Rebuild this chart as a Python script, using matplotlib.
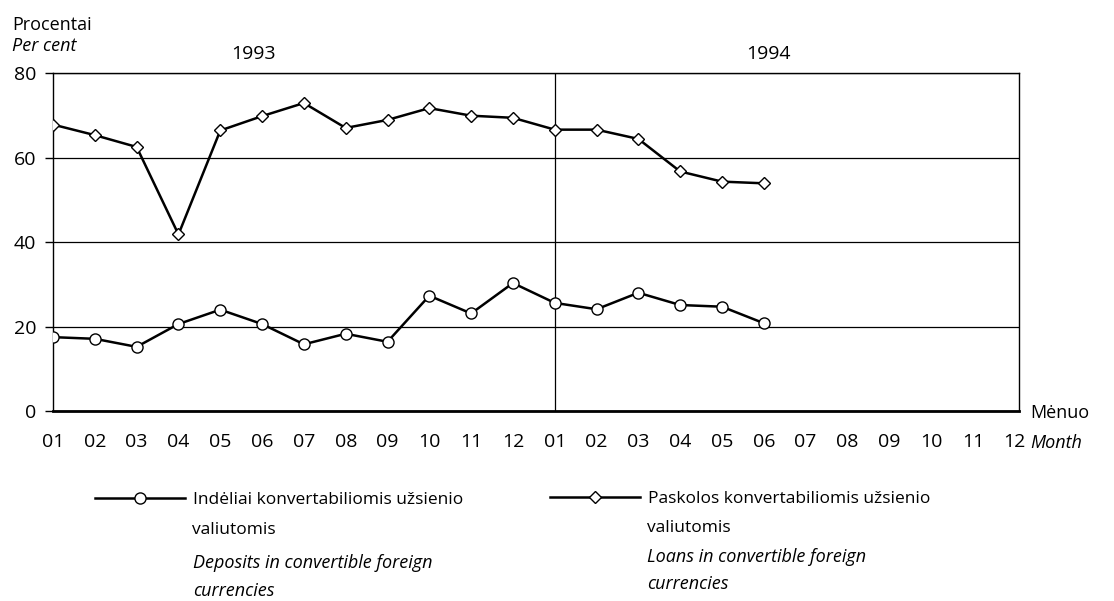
import matplotlib
matplotlib.use("Agg")
import matplotlib.pyplot as plt

plt.rcParams["font.family"] = ["Open Sans", "DejaVu Sans"]

months = ["01", "02", "03", "04", "05", "06", "07", "08", "09", "10", "11", "12"] * 2
years = ["1993", "1994"]

# Deposits in convertible foreign currencies (1993-01 .. 1994-06)
deposits = [17.5, 17.1, 15.2, 20.6, 24.0, 20.6, 15.8, 18.3, 16.4, 27.3, 23.1, 30.3,
            25.6, 24.1, 28.0, 25.1, 24.7, 20.8]
# Loans in convertible foreign currencies
loans = [67.8, 65.3, 62.5, 41.8, 66.4, 69.8, 72.9, 67.0, 68.9, 71.7, 69.9, 69.4,
         66.6, 66.6, 64.4, 56.7, 54.3, 53.9]

fig = plt.figure(figsize=(11.14, 6.01), dpi=100)
ax = fig.add_axes([0.0476, 0.316, 0.867, 0.5625])

x_dep = list(range(len(deposits)))
x_loan = list(range(len(loans)))

h_dep, = ax.plot(x_dep, deposits, color="black", lw=1.8, marker="o", ms=8,
                 mfc="white", mec="black", mew=1.0, zorder=3)
h_loan, = ax.plot(x_loan, loans, color="black", lw=1.8, marker="D", ms=6.5,
                  mfc="white", mec="black", mew=1.0, zorder=3)

ax.set_xlim(0, 23.1)
ax.set_ylim(0, 80)
ax.set_yticks([0, 20, 40, 60, 80])
ax.set_xticks(range(24))
ax.set_xticklabels(months)
ax.tick_params(axis="x", length=0, pad=16, labelsize=14)
ax.tick_params(axis="y", length=6, width=1.0, direction="out", pad=6, labelsize=14)
ax.yaxis.grid(True, color="black", lw=0.9)
ax.set_axisbelow(True)
ax.axvline(12, color="black", lw=0.9, zorder=1)
for side in ["top", "right", "left"]:
    ax.spines[side].set_linewidth(1.0)
ax.spines["bottom"].set_linewidth(2.0)

# year labels
ax.text(4.8, 84.5, years[0], ha="center", va="center", fontsize=14)
ax.text(17.1, 84.5, years[1], ha="center", va="center", fontsize=14)

# axis titles
fig.text(12 / 1114, 1 - 25 / 601, "Procentai", ha="left", va="center", fontsize=13)
fig.text(12 / 1114, 1 - 46 / 601, "Per cent", ha="left", va="center", fontsize=13,
         style="italic")
fig.text(1030 / 1114, 1 - 413 / 601, "Mėnuo", ha="left", va="center", fontsize=13)
fig.text(1030 / 1114, 1 - 443 / 601, "Month", ha="left", va="center", fontsize=13,
         style="italic")

# legend
fig.legend([h_dep], ["Indėliai konvertabiliomis užsienio"], loc="upper left",
           bbox_to_anchor=(95 / 1114, 1 - 492 / 601), frameon=False,
           borderpad=0, borderaxespad=0, handlelength=5.2, handletextpad=0.45,
           fontsize=12.5)
fig.legend([h_loan], ["Paskolos konvertabiliomis užsienio"], loc="upper left",
           bbox_to_anchor=(550 / 1114, 1 - 491 / 601), frameon=False,
           borderpad=0, borderaxespad=0, handlelength=5.2, handletextpad=0.45,
           fontsize=12.5)

fig.text(192 / 1114, 1 - 530 / 601, "valiutomis", ha="left", va="center", fontsize=12.5)
fig.text(193 / 1114, 1 - 563 / 601, "Deposits in convertible foreign", ha="left",
         va="center", fontsize=13, style="italic")
fig.text(193 / 1114, 1 - 591 / 601, "currencies", ha="left", va="center", fontsize=13,
         style="italic")
fig.text(647 / 1114, 1 - 528 / 601, "valiutomis", ha="left", va="center", fontsize=12.5)
fig.text(647 / 1114, 1 - 557 / 601, "Loans in convertible foreign", ha="left",
         va="center", fontsize=13, style="italic")
fig.text(647 / 1114, 1 - 584 / 601, "currencies", ha="left", va="center", fontsize=13,
         style="italic")

fig.savefig("out.png", dpi=100)
